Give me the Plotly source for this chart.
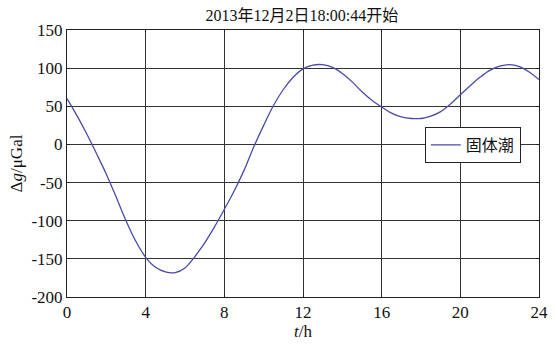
import plotly.graph_objects as go

t_hours = [0, 0.5, 1.0, 1.5, 2.0, 2.5, 3.0, 3.5, 4.0, 4.5, 5.0, 5.5, 6.0, 6.5, 7.0, 7.5,
           8.0, 8.5, 9.0, 9.5, 10.0, 10.5, 11.0, 11.5, 12.0, 12.5, 13.0, 13.5, 14.0, 14.5,
           15.0, 15.5, 16.0, 16.5, 17.0, 17.5, 18.0, 18.5, 19.0, 19.5, 20.0, 20.5, 21.0,
           21.5, 22.0, 22.5, 23.0, 23.5, 24.0]
solid_tide = [60, 38, 14, -12, -39, -69, -100, -127, -148, -161, -167, -168, -162, -147,
              -129, -108, -85, -61, -34, -3, 25, 51, 72, 88, 99, 104, 104.5, 101, 93, 82,
              69, 58, 49, 41, 36, 34, 34, 37, 43, 53, 65, 77, 88, 97, 102.5, 104.5, 102,
              95, 85]

x_ticks = [0, 4, 8, 12, 16, 20, 24]
y_ticks = [-200, -150, -100, -50, 0, 50, 100, 150]
y_tick_labels = ["-200", "-150", "-100", "-50", "0", "50", "100", "150"]

title_text = "2013年12月2日18:00:44开始"
legend_name = "固体潮"
x_label = "<i>t</i>/h"
y_label = "Δ<i>g</i>/μGal"

serif = "Liberation Serif, Times New Roman, Noto Sans CJK SC, serif"

fig = go.Figure()
fig.add_trace(go.Scatter(
    x=t_hours, y=solid_tide, mode="lines", name=legend_name,
    line=dict(color="#4a4aaa", width=1.3, shape="spline", smoothing=1.0),
))

axis_common = dict(
    showline=True, linecolor="#222", linewidth=1, mirror="ticks",
    ticks="inside", ticklen=3, tickcolor="#222",
    showgrid=True, gridcolor="#333", gridwidth=1, zeroline=False,
    tickfont=dict(family=serif, size=17, color="#111"),
)

fig.update_xaxes(range=[0, 24], tickvals=x_ticks, **axis_common,
                 title=dict(text=x_label, font=dict(family=serif, size=17, color="#111"), standoff=2))
fig.update_yaxes(range=[-200, 150], tickvals=y_ticks, ticktext=y_tick_labels, **axis_common,
                 title=dict(text=y_label, font=dict(family=serif, size=17, color="#111"), standoff=4))

fig.update_layout(
    width=559, height=348,
    margin=dict(l=67, r=20, t=30, b=51),
    paper_bgcolor="white", plot_bgcolor="white",
    title=dict(text=title_text, x=0.54, xanchor="center", y=0.955, yanchor="middle",
               font=dict(family=serif, size=16, color="#111")),
    showlegend=True,
    legend=dict(x=0.758, y=0.637, xanchor="left", yanchor="top",
                bgcolor="white", bordercolor="#222", borderwidth=1,
                font=dict(family="Noto Sans CJK SC, sans-serif", size=16, color="#111"),
                itemwidth=30, tracegroupgap=0),
)

fig.write_html("out.html")
